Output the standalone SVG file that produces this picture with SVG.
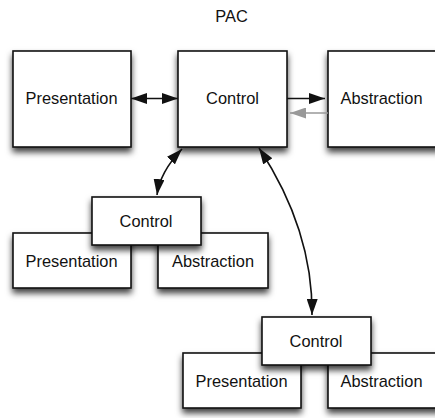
<svg xmlns="http://www.w3.org/2000/svg" width="435" height="418" viewBox="0 0 435 418">
  <style>
    .box { fill: #ffffff; stroke: #111111; stroke-width: 1.6; filter: url(#shadow); }
    .label { font-family: "Liberation Sans", Arial, sans-serif; font-size: 16.4px; fill: #111111; text-anchor: middle; }
    .link { fill: none; stroke: #111111; stroke-width: 1.6; }
    .back { fill: none; stroke: #999999; stroke-width: 1.5; }
  </style>
  <defs>
    <filter id="shadow" x="-20%" y="-20%" width="140%" height="150%">
      <feDropShadow dx="0" dy="4.5" stdDeviation="3" flood-color="#000000" flood-opacity="0.75"/>
    </filter>
    <marker id="head" markerUnits="userSpaceOnUse" markerWidth="16" markerHeight="11" refX="16" refY="5.5" orient="auto-start-reverse">
      <path d="M0,0 L16,5.5 L0,11 z" fill="#111111"/>
    </marker>
    <marker id="head-grey" markerUnits="userSpaceOnUse" markerWidth="16" markerHeight="11" refX="16" refY="5.5" orient="auto">
      <path d="M0,0 L16,5.5 L0,11 z" fill="#999999"/>
    </marker>
  </defs>

  <text class="label" x="231.5" y="22">PAC</text>

  <!-- top-level agent -->
  <g id="presentation">
    <rect class="box" x="13" y="51" width="118" height="96"/>
    <text class="label" x="71.5" y="104">Presentation</text>
  </g>
  <g id="control">
    <rect class="box" x="178" y="51" width="109" height="96"/>
    <text class="label" x="232.5" y="104">Control</text>
  </g>
  <g id="abstraction">
    <rect class="box" x="328" y="51" width="120" height="96"/>
    <text class="label" x="381.5" y="104">Abstraction</text>
  </g>

  <!-- first child agent -->
  <g id="child1-presentation">
    <rect class="box" x="13" y="233" width="118" height="55"/>
    <text class="label" x="71.5" y="267">Presentation</text>
  </g>
  <g id="child1-abstraction">
    <rect class="box" x="158" y="233" width="110" height="55"/>
    <text class="label" x="213" y="267">Abstraction</text>
  </g>
  <g id="child1-control">
    <rect class="box" x="92" y="197" width="109" height="48"/>
    <text class="label" x="146" y="227">Control</text>
  </g>

  <!-- second child agent -->
  <g id="child2-presentation">
    <rect class="box" x="183" y="353" width="118" height="55"/>
    <text class="label" x="241.5" y="387">Presentation</text>
  </g>
  <g id="child2-abstraction">
    <rect class="box" x="328" y="353" width="120" height="55"/>
    <text class="label" x="381.5" y="387">Abstraction</text>
  </g>
  <g id="child2-control">
    <rect class="box" x="262" y="317" width="109" height="48"/>
    <text class="label" x="316" y="347">Control</text>
  </g>

  <!-- connectors -->
  <g id="connectors">
    <path class="link" d="M131,98.5 L178,98.5" marker-start="url(#head)" marker-end="url(#head)"/>
    <path class="link" d="M287,98.5 L325,98.5" marker-end="url(#head)"/>
    <path class="back" d="M328,113 L290,113" marker-end="url(#head-grey)"/>
    <path class="link" d="M157,195 Q160,172 182,149" marker-start="url(#head)" marker-end="url(#head)"/>
    <path class="link" d="M259,148 Q313,230 312,315" marker-start="url(#head)" marker-end="url(#head)"/>
  </g>
</svg>
